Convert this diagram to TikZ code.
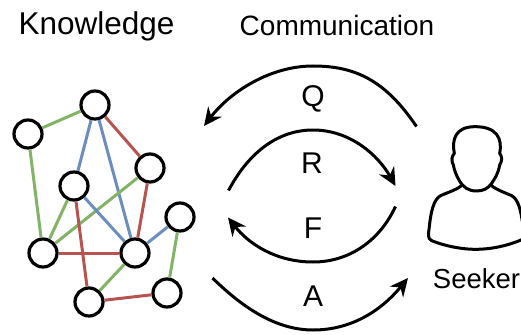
\documentclass[tikz,border=0pt]{standalone}
\usepackage{fontspec}
\setmainfont{Liberation Sans}
\usetikzlibrary{arrows.meta}
\definecolor{gedge}{HTML}{82B366}
\definecolor{bedge}{HTML}{6C8EBF}
\definecolor{redge}{HTML}{B85450}
\tikzset{
  x=1pt,y=-1pt,
  kn/.style={circle,draw=black,line width=3.2pt,minimum size=28pt,inner sep=0pt,fill=white},
  ge/.style={gedge,line width=3pt},
  be/.style={bedge,line width=3pt},
  re/.style={redge,line width=3pt},
  flow/.style={line width=3pt,-{Stealth[length=18pt,width=17pt,inset=6pt]}},
  big/.style={font=\fontsize{28}{30}\selectfont,inner sep=0pt,text=black},
  tall/.style={font=\fontsize{31.5}{34}\selectfont,inner sep=0pt,text=black},
  letter/.style={font=\fontsize{30}{32}\selectfont,inner sep=0pt,text=black},
  small/.style={font=\fontsize{27.5}{30}\selectfont,inner sep=0pt,text=black},
}
\begin{document}
\begin{tikzpicture}
\useasboundingbox (0,0) rectangle (521,334);
\clip (0,0) rectangle (521,334);
\node[tall] (tk) at (96.5,26) {Knowledge};
\node[big] (tc) at (337,25) {Communication};
\node[small] (ts) at (476.5,279) {Seeker};
\node[letter] (lq) at (313,99) {Q};
\node[letter] (lr) at (312,163) {R};
\node[letter] (lf) at (313,228) {F};
\node[letter] (la) at (313,296) {A};
\node[kn] (a) at (95,105) {};
\node[kn] (b) at (28,134) {};
\node[kn] (c) at (150,168) {};
\node[kn] (d) at (74,186) {};
\node[kn] (e) at (180,217) {};
\node[kn] (f) at (43,253) {};
\node[kn] (g) at (135,253) {};
\node[kn] (h) at (89,302) {};
\node[kn] (i) at (167,293) {};
\draw[ge] (b) -- (a);
\draw[ge] (b) -- (f);
\draw[be] (a) -- (d);
\draw[be] (a) -- (g);
\draw[re] (a) -- (c);
\draw[ge] (c) -- (f);
\draw[re] (c) -- (g);
\draw[ge] (d) -- (f);
\draw[be] (d) -- (g);
\draw[re] (d) -- (h);
\draw[re] (f) -- (g);
\draw[ge] (g) -- (h);
\draw[be] (g) -- (e);
\draw[ge] (e) -- (i);
\draw[re] (h) -- (i);
\coordinate (qs) at (416.5,126.5);
\coordinate (qe) at (204,126);
\coordinate (rs) at (228.5,190.5);
\coordinate (re) at (395.5,186);
\coordinate (fs) at (395.5,206.5);
\coordinate (fe) at (228,217.5);
\coordinate (as) at (212.5,278);
\coordinate (ae) at (408,278);
\draw[flow] (qs) .. controls (385,80) and (355,66) .. (313,66) .. controls (270,66) and (230,92) .. (qe);
\draw[flow] (rs) .. controls (250,150) and (280,130) .. (313,130) .. controls (350,130) and (378,155) .. (re);
\draw[flow] (fs) .. controls (380,240) and (350,262) .. (313,262) .. controls (275,262) and (248,243) .. (fe);
\draw[flow] (as) .. controls (245,310) and (278,330) .. (313,330) .. controls (350,330) and (380,312) .. (ae);
\begin{scope}[shift={(400,110)},x=0.3333pt,y=-0.3333pt,line width=3pt,line join=round,line cap=round]
\draw (230,243) .. controls (205,243) and (190,232) .. (178,212)
  .. controls (168,195) and (163,180) .. (160,165)
  .. controls (153,150) and (155,140) .. (163,130)
  .. controls (155,90) and (165,50) .. (225,50)
  .. controls (290,50) and (308,85) .. (299,130)
  .. controls (306,140) and (308,150) .. (299,165)
  .. controls (295,190) and (285,205) .. (275,220)
  .. controls (265,235) and (250,243) .. (230,243) -- cycle;
\draw (183,228) .. controls (165,242) and (140,248) .. (122,257)
  .. controls (100,268) and (92,310) .. (88,350)
  .. controls (85,375) and (82,385) .. (95,392)
  .. controls (140,410) and (190,418) .. (225,418)
  .. controls (280,418) and (330,405) .. (375,385);
\draw (272,225) .. controls (290,240) and (315,248) .. (335,257)
  .. controls (355,268) and (362,300) .. (368,340);
\end{scope}
\end{tikzpicture}
\end{document}
